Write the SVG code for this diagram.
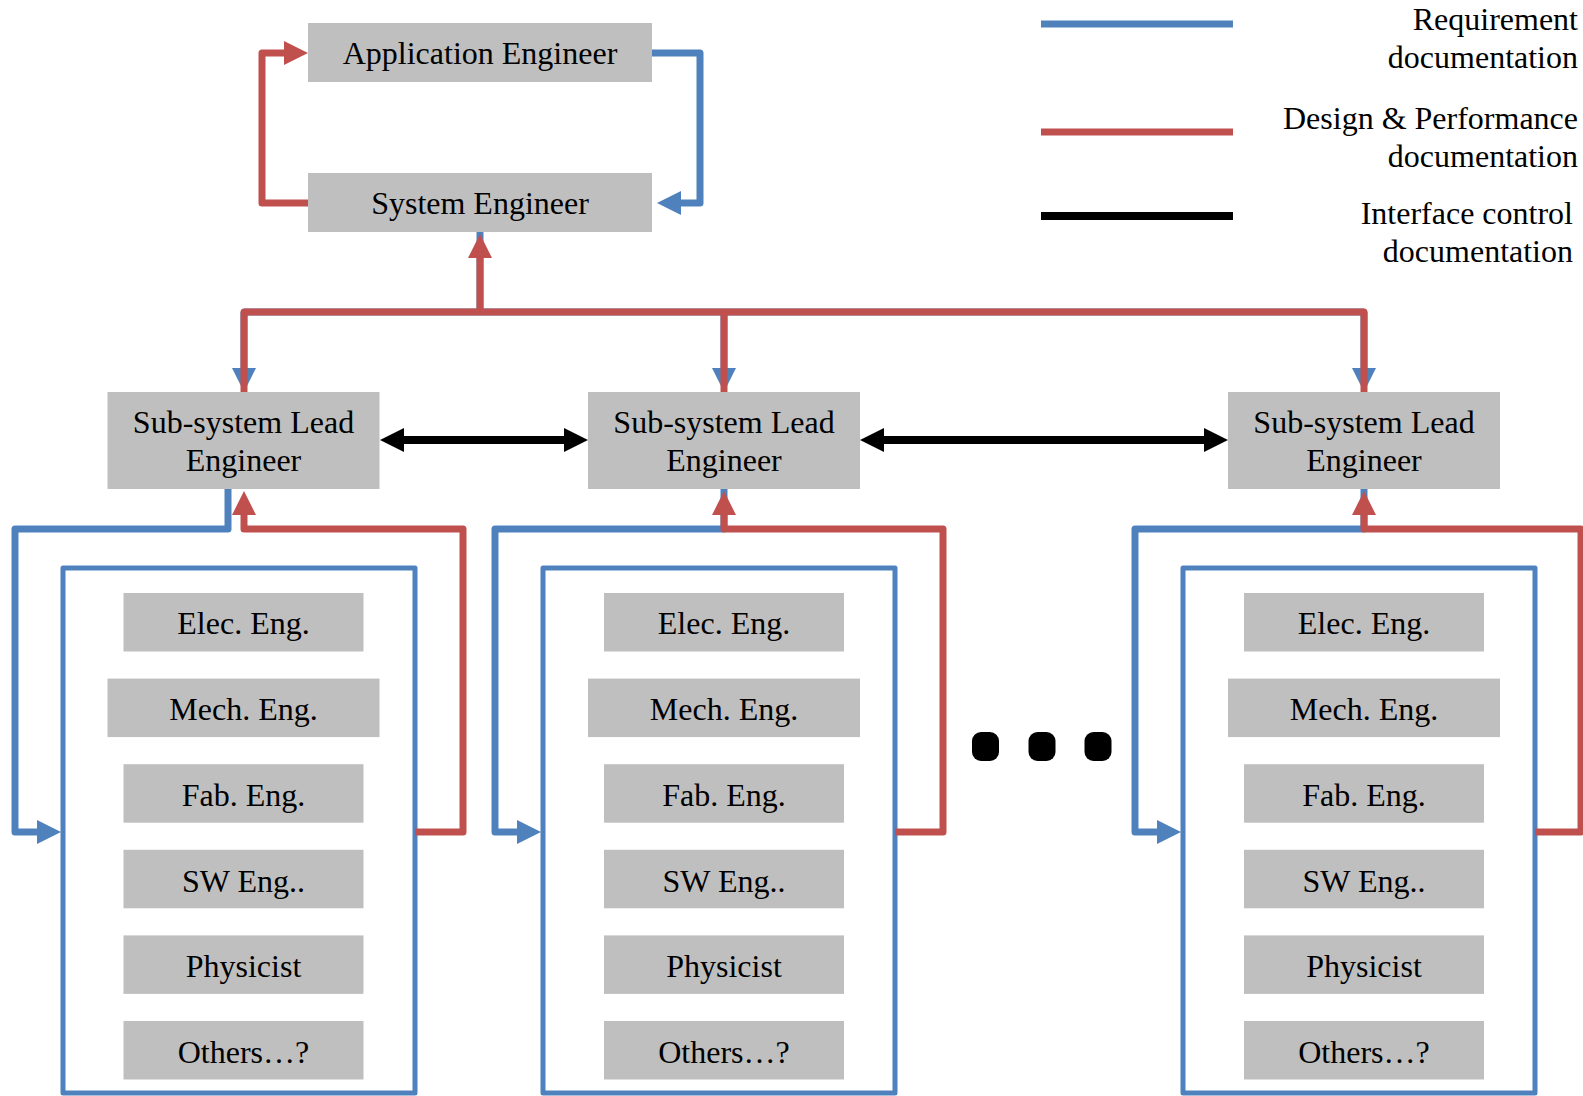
<svg xmlns="http://www.w3.org/2000/svg" width="1583" height="1096" viewBox="0 0 1583 1096">
<style>
.box{fill:#BFBFBF}
.t{font-family:"Liberation Serif","Times New Roman",serif;font-size:32px;fill:#000;text-anchor:middle}
.lg{font-family:"Liberation Serif","Times New Roman",serif;font-size:32px;fill:#000;text-anchor:end}
.b{fill:none;stroke:#4F81BD;stroke-width:7;stroke-linejoin:round}
.r{fill:none;stroke:#C0504D;stroke-width:7;stroke-linejoin:round}
.k{fill:none;stroke:#000;stroke-width:8}
.inner{fill:none;stroke:#4F81BD;stroke-width:5;stroke-linejoin:round}
</style>
<defs>
<marker id="ab" viewBox="0 0 24 24" refX="1" refY="12" markerWidth="24" markerHeight="24" markerUnits="userSpaceOnUse" orient="auto-start-reverse"><path d="M0,0 L24,12 L0,24 z" fill="#4F81BD"/></marker>
<marker id="ar" viewBox="0 0 24 24" refX="1" refY="12" markerWidth="24" markerHeight="24" markerUnits="userSpaceOnUse" orient="auto-start-reverse"><path d="M0,0 L24,12 L0,24 z" fill="#C0504D"/></marker>
<marker id="ak" viewBox="0 0 24 24" refX="1" refY="12" markerWidth="24" markerHeight="24" markerUnits="userSpaceOnUse" orient="auto-start-reverse"><path d="M0,0 L24,12 L0,24 z" fill="#000"/></marker>
</defs>
<rect width="1583" height="1096" fill="#fff"/>

<g id="legend">
<line x1="1041" y1="24" x2="1233" y2="24" stroke="#4F81BD" stroke-width="7"/>
<line x1="1041" y1="132" x2="1233" y2="132" stroke="#C0504D" stroke-width="7"/>
<line x1="1041" y1="216" x2="1233" y2="216" stroke="#000" stroke-width="8"/>
<text class="lg" x="1578" y="30">Requirement</text>
<text class="lg" x="1578" y="68">documentation</text>
<text class="lg" x="1578" y="129">Design &amp; Performance</text>
<text class="lg" x="1578" y="167">documentation</text>
<text class="lg" x="1573" y="224">Interface control</text>
<text class="lg" x="1573" y="262">documentation</text>
</g>

<g id="inner-frames">
<rect class="inner" x="63" y="568" width="352" height="525"/>
<rect class="inner" x="543" y="568" width="352" height="525"/>
<rect class="inner" x="1183" y="568" width="352" height="525"/>
</g>

<g id="connectors">
<path class="b" d="M480,232 V312"/>
<path class="b" d="M244,312 H1364"/>
<path class="b" d="M244,312 V369" marker-end="url(#ab)"/>
<path class="b" d="M724,312 V369" marker-end="url(#ab)"/>
<path class="b" d="M1364,312 V369" marker-end="url(#ab)"/>
<path class="r" d="M311,203 H262 V53 H285" marker-end="url(#ar)"/>
<path class="b" d="M649,53 H700 V203 H680" marker-end="url(#ab)"/>
<path class="r" d="M244,392 V312 H1364 V392"/>
<path class="r" d="M724,312 V392"/>
<path class="r" d="M480,312 V257" marker-end="url(#ar)"/>
<path class="k" d="M403,440 H565" marker-start="url(#ak)" marker-end="url(#ak)"/>
<path class="k" d="M883,440 H1205" marker-start="url(#ak)" marker-end="url(#ak)"/>
<path class="b" d="M228,489 V529 H15 V832 H38" marker-end="url(#ab)"/>
<path class="r" d="M415,832 H463 V529 H244 V514" marker-end="url(#ar)"/>
<path class="b" d="M724,489 V529 H495 V832 H518" marker-end="url(#ab)"/>
<path class="r" d="M895,832 H943 V529 H724 V514" marker-end="url(#ar)"/>
<path class="b" d="M1364,489 V529 H1135 V832 H1158" marker-end="url(#ab)"/>
<path class="r" d="M1535,832 H1581 V529 H1364 V514" marker-end="url(#ar)"/>
</g>

<g id="app-engineer"><rect class="box" x="308" y="23" width="344" height="59"/><text class="t" x="480" y="64">Application Engineer</text></g>
<g id="system-engineer"><rect class="box" x="308" y="173" width="344" height="59"/><text class="t" x="480" y="214">System Engineer</text></g>

<g id="lead-1"><rect class="box" x="107.5" y="392" width="272" height="97"/><text class="t" x="243.5" y="433">Sub-system Lead</text><text class="t" x="243.5" y="471">Engineer</text></g>
<g id="lead-2"><rect class="box" x="588" y="392" width="272" height="97"/><text class="t" x="724" y="433">Sub-system Lead</text><text class="t" x="724" y="471">Engineer</text></g>
<g id="lead-3"><rect class="box" x="1228" y="392" width="272" height="97"/><text class="t" x="1364" y="433">Sub-system Lead</text><text class="t" x="1364" y="471">Engineer</text></g>

<g id="g1-elec"><rect class="box" x="123.5" y="593" width="240" height="58.5"/><text class="t" x="243.5" y="634">Elec. Eng.</text></g>
<g id="g1-mech"><rect class="box" x="107.5" y="678.6" width="272" height="58.5"/><text class="t" x="243.5" y="720">Mech. Eng.</text></g>
<g id="g1-fab"><rect class="box" x="123.5" y="764.2" width="240" height="58.5"/><text class="t" x="243.5" y="806">Fab. Eng.</text></g>
<g id="g1-sw"><rect class="box" x="123.5" y="849.8" width="240" height="58.5"/><text class="t" x="243.5" y="891.5">SW Eng..</text></g>
<g id="g1-phys"><rect class="box" x="123.5" y="935.4" width="240" height="58.5"/><text class="t" x="243.5" y="977">Physicist</text></g>
<g id="g1-others"><rect class="box" x="123.5" y="1021" width="240" height="58.5"/><text class="t" x="243.5" y="1062.5">Others…?</text></g>

<g id="g2-elec"><rect class="box" x="604" y="593" width="240" height="58.5"/><text class="t" x="724" y="634">Elec. Eng.</text></g>
<g id="g2-mech"><rect class="box" x="588" y="678.6" width="272" height="58.5"/><text class="t" x="724" y="720">Mech. Eng.</text></g>
<g id="g2-fab"><rect class="box" x="604" y="764.2" width="240" height="58.5"/><text class="t" x="724" y="806">Fab. Eng.</text></g>
<g id="g2-sw"><rect class="box" x="604" y="849.8" width="240" height="58.5"/><text class="t" x="724" y="891.5">SW Eng..</text></g>
<g id="g2-phys"><rect class="box" x="604" y="935.4" width="240" height="58.5"/><text class="t" x="724" y="977">Physicist</text></g>
<g id="g2-others"><rect class="box" x="604" y="1021" width="240" height="58.5"/><text class="t" x="724" y="1062.5">Others…?</text></g>

<g id="g3-elec"><rect class="box" x="1244" y="593" width="240" height="58.5"/><text class="t" x="1364" y="634">Elec. Eng.</text></g>
<g id="g3-mech"><rect class="box" x="1228" y="678.6" width="272" height="58.5"/><text class="t" x="1364" y="720">Mech. Eng.</text></g>
<g id="g3-fab"><rect class="box" x="1244" y="764.2" width="240" height="58.5"/><text class="t" x="1364" y="806">Fab. Eng.</text></g>
<g id="g3-sw"><rect class="box" x="1244" y="849.8" width="240" height="58.5"/><text class="t" x="1364" y="891.5">SW Eng..</text></g>
<g id="g3-phys"><rect class="box" x="1244" y="935.4" width="240" height="58.5"/><text class="t" x="1364" y="977">Physicist</text></g>
<g id="g3-others"><rect class="box" x="1244" y="1021" width="240" height="58.5"/><text class="t" x="1364" y="1062.5">Others…?</text></g>

<g id="ellipsis">
<rect x="972" y="732" width="27" height="29" rx="9"/>
<rect x="1028.5" y="732" width="27" height="29" rx="9"/>
<rect x="1084.5" y="732" width="27" height="29" rx="9"/>
</g>
</svg>
